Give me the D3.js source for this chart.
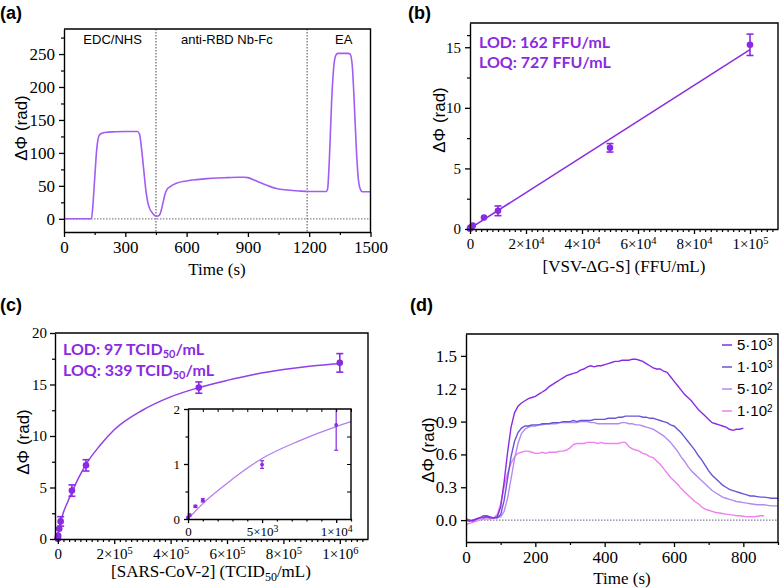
<!DOCTYPE html>
<html><head><meta charset="utf-8">
<script src="https://cdn.jsdelivr.net/npm/d3@7"></script>
<style>body{margin:0;background:#fff}svg{display:block}</style>
</head><body>
<svg id="chart" width="781" height="588"></svg>
<script>
// ================= DATA =================
// (a) sensor functionalisation trace
const timeA  = [0,60,120,134,140,150,160,170,180,200,250,300,360,370,380,390,400,410,420,430,440,455,465,475,485,495,505,520,550,600,650,700,750,800,850,880,900,930,960,1000,1040,1080,1120,1160,1200,1285,1290,1300,1310,1320,1330,1340,1360,1390,1400,1410,1420,1430,1440,1450,1460,1500];
const phaseA = [0,0,0,0,15,60,105,125,129,131,132,132.5,132.5,128,105,75,45,25,15,10,6,4,5,12,25,38,45,49,54,57.5,59.5,61,62,62.5,63,63,62.5,59,55,50,46,44,43,42,41.5,41.5,45,100,180,230,248,251,251,251,250,235,180,110,62,45,41,41];
const dividersA = [450, 1190];
const stepLabelsA = ["EDC/NHS", "anti-RBD Nb-Fc", "EA"];
const stepCentersA = [238, 797, 1369];
const xTicksA = [0,300,600,900,1200,1500];
const yTicksA = [0,50,100,150,200,250];

// (b) VSV-ΔG-S calibration
const concB  = [0, 100, 500, 1000, 5000, 10000, 50000, 100000];
const phaseB = [0.03, 0.1, 0.16, 0.28, 0.95, 1.5, 6.7, 15.2];
const errB   = [0.03, 0.04, 0.05, 0.06, 0.06, 0.4, 0.35, 0.88];
const fitXB  = [0, 100000];
const fitYB  = [0.06, 14.8];
const xTicksB = [0,20000,40000,60000,80000,100000];
const xLabelsB = ["0","2×10^4","4×10^4","6×10^4","8×10^4","1×10^5"];
const yTicksB = [0,5,10,15];
const lodB = ["LOD: 162 FFU/mL", "LOQ: 727 FFU/mL"];

// (c) SARS-CoV-2 calibration
const concC  = [0, 100, 500, 1000, 5000, 10000, 50000, 100000, 500000, 1000000];
const phaseC = [0.02, 0.07, 0.23, 0.34, 0.99, 1.71, 4.7, 7.15, 14.7, 17.1];
const errC   = [0.02, 0.02, 0.02, 0.03, 0.07, 0.46, 0.55, 0.55, 0.55, 0.9];
const fitXC  = [0,1000,2500,5000,7500,10000,11000,20000,35000,50000,75000,100000,150000,200000,300000,400000,500000,600000,700000,800000,900000,1000000];
const fitYC  = [0,0.28,0.62,1.1,1.42,1.68,1.77,2.6,3.6,4.55,6.0,7.25,9.1,10.6,12.5,13.8,14.7,15.4,16.0,16.45,16.8,17.05];
const xTicksC = [0,200000,400000,600000,800000,1000000];
const xLabelsC = ["0","2×10^5","4×10^5","6×10^5","8×10^5","1×10^6"];
const yTicksC = [0,5,10,15,20];
const xTicksInset = [0,5000,10000];
const xLabelsInset = ["0","5×10^3","1×10^4"];
const yTicksInset = [0,1,2];

// (d) real-time SARS-CoV-2 traces
const timeD = [0,10,20,30,40,50,60,70,80,90,100,110,120,130,140,150,160,170,180,190,200,210,220,230,240,250,260,270,280,290,300,310,320,330,340,350,360,370,380,390,400,410,420,430,440,450,460,470,480,490,500,510,520,530,540,550,560,570,580,590,600,610,620,630,640,650,660,670,680,690,700,710,720,730,740,750,760,770,780,790,800,810,820,830,840,850,860,870,880,890,900];
const trace5e3 = [0,-0.01,0,0.01,0.02,0.02,0.03,0.02,0.02,0.03,0.12,0.35,0.62,0.85,0.98,1.04,1.07,1.09,1.11,1.12,1.13,1.15,1.17,1.19,1.22,1.24,1.26,1.28,1.30,1.32,1.33,1.34,1.35,1.37,1.38,1.40,1.41,1.40,1.41,1.41,1.42,1.43,1.44,1.45,1.45,1.46,1.46,1.46,1.47,1.47,1.46,1.45,1.43,1.41,1.39,1.38,1.38,1.36,1.35,1.31,1.27,1.23,1.19,1.15,1.12,1.09,1.05,1.01,0.98,0.95,0.92,0.89,0.88,0.87,0.86,0.85,0.83,0.82,0.83,0.83,0.84];
const trace1e3 = [0.01,0,-0.01,0.01,0.02,0.04,0.04,0.03,0.02,0.02,0.05,0.18,0.38,0.58,0.72,0.80,0.84,0.86,0.86,0.87,0.87,0.87,0.88,0.88,0.88,0.89,0.89,0.89,0.90,0.90,0.90,0.91,0.90,0.91,0.91,0.91,0.91,0.92,0.92,0.92,0.92,0.93,0.93,0.93,0.94,0.94,0.95,0.95,0.95,0.95,0.95,0.94,0.94,0.93,0.93,0.92,0.91,0.90,0.89,0.87,0.86,0.83,0.80,0.76,0.72,0.68,0.64,0.59,0.55,0.50,0.45,0.41,0.38,0.35,0.32,0.30,0.28,0.27,0.26,0.25,0.24,0.23,0.22,0.22,0.215,0.21,0.21,0.205,0.20,0.20,0.20];
const trace5e2 = [0.01,0,0,0.01,0.02,0.03,0.03,0.02,0.02,0.02,0.03,0.08,0.20,0.38,0.56,0.70,0.79,0.83,0.85,0.86,0.86,0.87,0.87,0.88,0.88,0.88,0.88,0.89,0.89,0.89,0.89,0.89,0.89,0.90,0.90,0.90,0.89,0.89,0.88,0.88,0.88,0.88,0.88,0.88,0.88,0.89,0.89,0.88,0.88,0.87,0.87,0.86,0.85,0.84,0.83,0.81,0.79,0.77,0.74,0.71,0.67,0.63,0.58,0.54,0.49,0.45,0.42,0.39,0.36,0.33,0.30,0.27,0.25,0.23,0.21,0.20,0.19,0.18,0.17,0.165,0.16,0.155,0.15,0.145,0.14,0.14,0.14,0.135,0.13,0.13,0.13];
const trace1e2 = [-0.04,-0.03,-0.02,-0.01,0,0.01,0.01,0.01,0.02,0.05,0.15,0.30,0.43,0.52,0.58,0.61,0.62,0.63,0.63,0.62,0.61,0.61,0.62,0.61,0.62,0.62,0.62,0.63,0.63,0.64,0.66,0.69,0.70,0.70,0.70,0.71,0.71,0.71,0.70,0.71,0.70,0.70,0.70,0.70,0.70,0.71,0.71,0.67,0.65,0.64,0.63,0.61,0.60,0.58,0.57,0.54,0.51,0.47,0.43,0.39,0.36,0.33,0.29,0.26,0.23,0.20,0.17,0.15,0.12,0.10,0.09,0.08,0.07,0.065,0.06,0.055,0.05,0.045,0.04,0.04,0.035,0.03,0.03,0.03,0.035,0.04,0.04];
const seriesNamesD = ["5·10^3","1·10^3","5·10^2","1·10^2"];
const seriesColorsD = ["#8a2be2","#6656d6","#b58af0","#ee80f0"];
const xTicksD = [0,200,400,600,800];
const yTicksD = [0,0.3,0.6,0.9,1.2,1.5];

// ================= DRAWING =================
const SERIF = "'Liberation Serif','Times New Roman',serif";
const SANS  = "'Liberation Sans',Arial,sans-serif";
const BOLD  = "Lato,'Open Sans',sans-serif";
const PURPLE = "#8a2be2";
const svg = d3.select("#chart");
svg.append("rect").attr("width",781).attr("height",588).attr("fill","#fff");

function richText(sel, str, supSize) {
  const parts = str.split("^");
  sel.text(null);
  sel.append("tspan").text(parts[0]);
  if (parts.length > 1) {
    sel.append("tspan").attr("dy","-0.45em").attr("font-size", supSize).text(parts[1]);
  }
}

function frame(g, x, y, o) {
  const [xl, xr] = x.range(), [yb, yt] = y.range();
  const fs = o.fs || 16;
  if (o.xMinor) g.append("g").attr("transform",`translate(0,${yb})`)
    .call(d3.axisBottom(x).tickValues(o.xMinor).tickSize(o.minorLen||3).tickFormat(""))
    .call(s => { s.select(".domain").remove(); s.selectAll("line").attr("stroke-width",1.2); });
  if (o.yMinor) g.append("g").attr("transform",`translate(${xl},0)`)
    .call(d3.axisLeft(y).tickValues(o.yMinor).tickSize(o.minorLen||3).tickFormat(""))
    .call(s => { s.select(".domain").remove(); s.selectAll("line").attr("stroke-width",1.2); });
  const ax = g.append("g").attr("transform",`translate(0,${yb})`)
    .call(d3.axisBottom(x).tickValues(o.xTicks).tickSize(o.majorLen||5).tickSizeOuter(0).tickPadding(o.xPad||4));
  ax.selectAll(".tick text").each(function(d,i){ richText(d3.select(this), o.xLabels[i], o.supSize||"0.7em"); })
    .attr("font-family", SERIF).attr("font-size", fs).attr("fill","#000");
  const ay = g.append("g").attr("transform",`translate(${xl},0)`)
    .call(d3.axisLeft(y).tickValues(o.yTicks).tickSize(o.majorLen||5).tickSizeOuter(0).tickPadding(o.yPad||4));
  ay.selectAll(".tick text").each(function(d,i){ d3.select(this).text(o.yLabels[i]); })
    .attr("font-family", SERIF).attr("font-size", fs).attr("fill","#000");
  [ax, ay].forEach(a => { a.select(".domain").attr("stroke-width",1.4); a.selectAll(".tick line").attr("stroke-width",1.3); });
  g.append("path").attr("d",`M${xl},${yt}H${xr}V${yb}`).attr("fill","none").attr("stroke","#000").attr("stroke-width",1.4);
}

function errorBars(g, x, y, xs, ys, es, color, cap, width, clipTop) {
  xs.forEach((xv,i) => {
    const cx = x(xv);
    let top = y(ys[i]+es[i]), bot = y(ys[i]-es[i]);
    let topClipped = false;
    if (clipTop !== undefined && top < clipTop) { top = clipTop; topClipped = true; }
    if (bot - top < 2) return;
    g.append("line").attr("x1",cx).attr("x2",cx).attr("y1",top).attr("y2",bot).attr("stroke",color).attr("stroke-width",width);
    if (!topClipped) g.append("line").attr("x1",cx-cap).attr("x2",cx+cap).attr("y1",top).attr("y2",top).attr("stroke",color).attr("stroke-width",width);
    g.append("line").attr("x1",cx-cap).attr("x2",cx+cap).attr("y1",bot).attr("y2",bot).attr("stroke",color).attr("stroke-width",width);
  });
}

function panelLabel(txt, x, y) {
  svg.append("text").attr("x",x).attr("y",y).attr("font-family",SANS).attr("font-weight","bold").attr("font-size",18).text(txt);
}
function yTitle(x, y) {
  svg.append("text").attr("transform",`translate(${x},${y}) rotate(-90)`).attr("text-anchor","middle")
    .attr("font-family",SANS).attr("font-size",17).text("ΔΦ (rad)");
}

// ---------- (a) ----------
{
  const x = d3.scaleLinear().domain([0,1500]).range([64,370.5]);
  const y = d3.scaleLinear().domain([-20,288]).range([232,29]);
  const g = svg.append("g");
  g.append("line").attr("x1",x(0)).attr("x2",x(1500)).attr("y1",y(0)).attr("y2",y(0))
    .attr("stroke","#888").attr("stroke-width",1.2).attr("stroke-dasharray","1.5,1.5");
  dividersA.forEach(t => g.append("line").attr("x1",x(t)).attr("x2",x(t)).attr("y1",y.range()[1]).attr("y2",y.range()[0])
    .attr("stroke","#666").attr("stroke-width",1.2).attr("stroke-dasharray","1.5,1.5"));
  g.append("path").datum(timeA.map((t,i)=>[t,phaseA[i]]))
    .attr("d", d3.line().x(d=>x(d[0])).y(d=>y(d[1])).curve(d3.curveMonotoneX))
    .attr("fill","none").attr("stroke","#a35cf2").attr("stroke-width",1.6);
  stepLabelsA.forEach((s,i)=> g.append("text").attr("x",x(stepCentersA[i])).attr("y",44).attr("text-anchor","middle")
    .attr("font-family",SANS).attr("font-size",13).text(s));
  frame(g, x, y, {xTicks:xTicksA, xLabels:xTicksA.map(String), xMinor:[150,450,750,1050,1350],
    yTicks:yTicksA, yLabels:yTicksA.map(String), yMinor:[25,75,125,175,225,275], fs:17});
  g.append("text").attr("x",217).attr("y",275).attr("text-anchor","middle").attr("font-family",SERIF).attr("font-size",17).text("Time (s)");
  yTitle(27,128);
  panelLabel("(a)",0,19);
}

// ---------- (b) ----------
{
  const x = d3.scaleLinear().domain([0,110000]).range([470,778]);
  const y = d3.scaleLinear().domain([0,17]).range([229,23]);
  const g = svg.append("g");
  g.append("path").datum(fitXB.map((v,i)=>[v,fitYB[i]]))
    .attr("d", d3.line().x(d=>x(d[0])).y(d=>y(d[1]))).attr("fill","none").attr("stroke",PURPLE).attr("stroke-width",1.5);
  errorBars(g, x, y, concB, phaseB, errB, PURPLE, 3.5, 1.6);
  g.selectAll(".pt").data(concB).enter().append("circle").attr("cx",d=>x(d)).attr("cy",(d,i)=>y(phaseB[i])).attr("r",3.3).attr("fill",PURPLE);
  const minor = []; for (let v=2000; v<110000; v+=2000) if (v%20000) minor.push(v);
  frame(g, x, y, {xTicks:xTicksB, xLabels:xLabelsB, xMinor:minor, yTicks:yTicksB, yLabels:yTicksB.map(String), yMinor:[2.5,7.5,12.5,16], fs:15});
  lodB.forEach((s,i)=> g.append("text").attr("x",479).attr("y",48+i*20).attr("font-family",BOLD).attr("font-weight","bold")
    .attr("font-size",16).attr("fill",PURPLE).text(s));
  g.append("text").attr("x",624).attr("y",272).attr("text-anchor","middle").attr("font-family",SERIF).attr("font-size",17).text("[VSV-ΔG-S] (FFU/mL)");
  yTitle(445,120);
  panelLabel("(b)",408,19);
}

// ---------- (c) ----------
{
  const x = d3.scaleLinear().domain([-10000,1100000]).range([55,368]);
  const y = d3.scaleLinear().domain([0,20]).range([539,333]);
  const g = svg.append("g");
  g.append("path").datum(fitXC.map((v,i)=>[v,fitYC[i]]))
    .attr("d", d3.line().x(d=>x(d[0])).y(d=>y(d[1])).curve(d3.curveMonotoneX)).attr("fill","none").attr("stroke","#9040e8").attr("stroke-width",1.5);
  errorBars(g, x, y, concC, phaseC, errC, PURPLE, 3.5, 1.6);
  g.selectAll(".pt").data(concC).enter().append("circle").attr("cx",d=>x(d)).attr("cy",(d,i)=>y(phaseC[i])).attr("r",3.3).attr("fill",PURPLE);
  const minor = []; for (let v=20000; v<1100000; v+=20000) if (v%200000) minor.push(v);
  frame(g, x, y, {xTicks:xTicksC, xLabels:xLabelsC, xMinor:minor, yTicks:yTicksC, yLabels:yTicksC.map(String), yMinor:[2.5,7.5,12.5,17.5], fs:15, yPad:3});
  [["LOD: 97 TCID","50","/mL"],["LOQ: 339 TCID","50","/mL"]].forEach((p,i)=>{
    const t = g.append("text").attr("x",63).attr("y",355+i*21).attr("font-family",BOLD).attr("font-weight","bold").attr("font-size",16).attr("fill",PURPLE);
    t.append("tspan").text(p[0]); t.append("tspan").attr("dy",3).attr("font-size",11).text(p[1]); t.append("tspan").attr("dy",-3).text(p[2]);
  });
  const xt = g.append("text").attr("x",211).attr("y",577).attr("text-anchor","middle").attr("font-family",SERIF).attr("font-size",17);
  xt.append("tspan").text("[SARS-CoV-2] (TCID"); xt.append("tspan").attr("dy",4).attr("font-size",12).text("50"); xt.append("tspan").attr("dy",-4).text("/mL)");
  yTitle(29,442);
  panelLabel("(c)",0,311);

  // inset
  const xi = d3.scaleLinear().domain([0,11000]).range([188,351]);
  const yi = d3.scaleLinear().domain([0,2]).range([519,409]);
  const gi = svg.append("g");
  gi.append("rect").attr("x",188).attr("y",409).attr("width",163).attr("height",110).attr("fill","#fff");
  const fitIn = fitXC.map((v,i)=>[v,fitYC[i]]).filter(d=>d[0]<=11000);
  gi.append("path").datum(fitIn).attr("d", d3.line().x(d=>xi(d[0])).y(d=>yi(d[1])).curve(d3.curveMonotoneX))
    .attr("fill","none").attr("stroke","#b57cf0").attr("stroke-width",1.3);
  const inX = concC.filter(v=>v<=11000);
  errorBars(gi, xi, yi, inX, phaseC, errC, PURPLE, 2, 1.2, 409);
  gi.selectAll(".pt").data(inX).enter().append("circle").attr("cx",d=>xi(d)).attr("cy",(d,i)=>yi(phaseC[i])).attr("r",1.9).attr("fill",PURPLE);
  const minI = [1000,2000,3000,4000,6000,7000,8000,9000,11000];
  frame(gi, xi, yi, {xTicks:xTicksInset, xLabels:xLabelsInset, xMinor:minI, yTicks:yTicksInset, yLabels:yTicksInset.map(String), yMinor:[0.5,1.5], fs:13, majorLen:4, minorLen:2.5, supSize:"0.75em"});
  gi.append("g").attr("transform","translate(0,409)").call(d3.axisBottom(xi).tickValues(minI.concat(xTicksInset)).tickSize(3).tickFormat(""))
    .call(s=>s.select(".domain").remove());
  gi.append("g").attr("transform","translate(351,0)").call(d3.axisRight(yi).tickValues([0.5,1,1.5]).tickSize(-4).tickFormat(""))
    .call(s=>s.select(".domain").remove());
}

// ---------- (d) ----------
{
  const x = d3.scaleLinear().domain([0,900]).range([466,778]);
  const y = d3.scaleLinear().domain([-0.2,1.7]).range([542,334]);
  const g = svg.append("g");
  g.append("line").attr("x1",x(0)).attr("x2",x(900)).attr("y1",y(0)).attr("y2",y(0))
    .attr("stroke","#8080a8").attr("stroke-width",1.2).attr("stroke-dasharray","1.5,1.5");
  const traces = [trace5e3, trace1e3, trace5e2, trace1e2];
  const line = d3.line().x(d=>x(d[0])).y(d=>y(d[1]));
  [3,2,1,0].forEach(k => {
    g.append("path").datum(traces[k].map((v,i)=>[timeD[i],v])).attr("d",line)
      .attr("fill","none").attr("stroke",seriesColorsD[k]).attr("stroke-width",1.4);
  });
  frame(g, x, y, {xTicks:xTicksD, xLabels:xTicksD.map(String), xMinor:[100,300,500,700,900],
    yTicks:yTicksD, yLabels:yTicksD.map(v=>v.toFixed(1)), fs:17});
  seriesNamesD.forEach((s,i)=>{
    const yy = 345 + i*22;
    g.append("line").attr("x1",722).attr("x2",732).attr("y1",yy).attr("y2",yy).attr("stroke",seriesColorsD[i]).attr("stroke-width",1.5);
    const t = g.append("text").attr("x",737).attr("y",yy+5).attr("font-family",SANS).attr("font-size",15);
    richText(t, s, 10);
  });
  g.append("text").attr("x",622).attr("y",584).attr("text-anchor","middle").attr("font-family",SERIF).attr("font-size",17).text("Time (s)");
  yTitle(434,450);
  panelLabel("(d)",410,311);
}
</script>
</body></html>
